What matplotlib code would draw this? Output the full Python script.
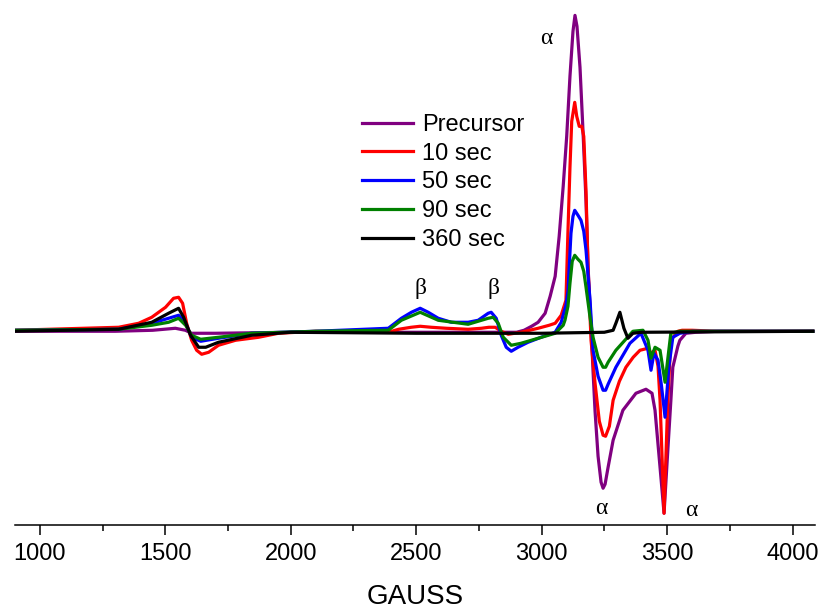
import numpy as np
import matplotlib.pyplot as plt

plt.rcParams['font.family'] = ['Liberation Sans', 'DejaVu Sans']

# 读出的谱线数据 (磁场 G, 信号 a.u.)
g_pre = [896, 1300, 1450, 1540, 1580, 1605, 1700, 2000, 2500, 2900, 2930, 2960, 2986,
         3014, 3034, 3054, 3070, 3086, 3100, 3113, 3125, 3133, 3141, 3153, 3165, 3177,
         3185, 3197, 3205, 3213, 3225, 3237, 3245, 3253, 3265, 3285, 3324, 3376, 3416,
         3440, 3452, 3472, 3488, 3503, 3515, 3523, 3543, 3551, 3575, 3615, 3700, 4081]
y_pre = [0, 0, 1, 3, 1, -2, -2, -1, -1, -1, 1, 5, 9,
         18, 35, 55, 95, 145, 195, 255, 300, 316, 305, 264, 200, 130,
         65, 5, -40, -80, -125, -151, -157, -153, -136, -109, -79, -62, -58,
         -62, -79, -136, -182, -119, -70, -36, -15, -9, -2, -1, 0, 0]

g_10 = [896, 1314, 1394, 1446, 1501, 1533, 1553, 1569, 1585, 1605, 1625, 1645, 1673,
        1712, 1780, 1872, 1951, 2100, 2389, 2430, 2480, 2516, 2560, 2620, 2707, 2760,
        2790, 2815, 2839, 2867, 2918, 2986, 3030, 3054, 3078, 3097, 3105, 3113, 3120,
        3132, 3140, 3150, 3160, 3168, 3177, 3185, 3197, 3213, 3230, 3245, 3255, 3270,
        3285, 3310, 3336, 3365, 3392, 3424, 3436, 3452, 3464, 3472, 3488, 3503, 3515,
        3543, 3560, 3600, 3700, 4081]
y_10 = [1, 4, 8, 14, 24, 33, 34, 28, 8, -9, -19, -23, -21,
        -14, -9, -6, -2, 0, -1, 2, 4, 5, 4, 3, 2, 3,
        4, 4, 0, -3, -1, 3, 6, 8, 16, 31, 100, 164, 210,
        229, 215, 205, 205, 195, 140, 64, -9, -52, -90, -104, -105, -95,
        -69, -50, -36, -26, -19, -17, -22, -19, -35, -69, -182, -69, -9,
        0, 1, 1, 0, 0]

g_50 = [896, 1314, 1446, 1513, 1553, 1581, 1605, 1641, 1712, 1844, 2100, 2389, 2441,
        2481, 2516, 2548, 2588, 2640, 2707, 2747, 2787, 2799, 2819, 2839, 2859, 2879,
        2906, 2946, 2998, 3054, 3078, 3097, 3105, 3117, 3125, 3132, 3145, 3157, 3168,
        3177, 3193, 3205, 3225, 3245, 3255, 3265, 3296, 3352, 3396, 3424, 3436, 3448,
        3464, 3478, 3492, 3507, 3523, 3551, 3600, 4081]
y_50 = [1, 2, 8, 13, 16, 8, -6, -10, -7, -2, 0, 3, 13,
        19, 23, 19, 13, 9, 9, 11, 18, 19, 13, -4, -16, -20,
        -16, -11, -6, -1, 9, 26, 40, 98, 115, 121, 116, 111, 100,
        81, 31, -19, -45, -59, -59, -53, -36, -12, -2, -19, -39, -22,
        -29, -55, -86, -36, -6, -2, 0, 0]

g_90 = [896, 1314, 1446, 1513, 1553, 1581, 1605, 1641, 1712, 1844, 2100, 2389, 2441,
        2516, 2588, 2707, 2787, 2807, 2827, 2847, 2879, 2918, 2986, 3054, 3086, 3093,
        3105, 3113, 3122, 3132, 3145, 3157, 3168, 3177, 3193, 3205, 3225, 3245, 3255,
        3265, 3296, 3364, 3404, 3424, 3436, 3452, 3472, 3492, 3507, 3515, 3550, 4081]
y_90 = [1, 2, 6, 9, 13, 6, -4, -8, -6, -2, 0, 1, 11,
        19, 11, 7, 13, 14, 8, -6, -14, -12, -7, -2, 6, 11,
        25, 48, 70, 76, 72, 69, 60, 44, 14, -6, -26, -36, -36,
        -31, -19, 0, 1, -9, -27, -16, -19, -51, -19, -2, 0, 0]

g_360 = [896, 1314, 1446, 1513, 1553, 1573, 1601, 1633, 1661, 1712, 1844, 2000, 2500,
         3000, 3250, 3285, 3296, 3312, 3328, 3344, 3364, 3400, 4081]
y_360 = [0, 2, 9, 18, 23, 14, -4, -16, -16, -11, -4, -1, -2,
         -2, -1, 1, 8, 19, 3, -7, -2, -1, 0]

labels = ['Precursor', '10 sec', '50 sec', '90 sec', '360 sec']
colors = ['#800080', '#ff0000', '#0000ff', '#008000', '#000000']

fig = plt.figure(figsize=(8.2, 6.1), dpi=100)
ax = fig.add_axes([0.018, 0.139, 0.976, 0.844])

series = [(g_pre, y_pre), (g_10, y_10), (g_50, y_50), (g_90, y_90), (g_360, y_360)]
for (g, y), lab, c in zip(series, labels, colors):
    ax.plot(g, y, color=c, lw=2.3, label=lab, solid_joinstyle='round')

# 希腊字母标注
greek = dict(fontsize=17, family=['Liberation Serif', 'DejaVu Serif'], ha='center', va='center')
ax.text(2516, 43, 'β', **greek)
ax.text(2807, 43, 'β', **greek)
ax.text(3018, 293, 'α', **greek)
ax.text(3237, -177, 'α', **greek)
ax.text(3595, -179, 'α', **greek)

ax.set_xlim(900, 4090)
ax.set_ylim(-194, 321)
for s in ['top', 'left', 'right']:
    ax.spines[s].set_visible(False)
ax.spines['bottom'].set_linewidth(1.1)
ax.set_yticks([])
ax.set_xticks(np.arange(1000, 4001, 500))
ax.set_xticks(np.arange(1250, 4001, 500), minor=True)
ax.tick_params(axis='x', which='major', direction='out', length=7.5, width=1.1,
               labelsize=17, pad=5)
ax.tick_params(axis='x', which='minor', direction='out', length=4.5, width=1.1)
ax.set_xlabel('GAUSS', fontsize=20, labelpad=14)

ax.legend(loc='upper left', bbox_to_anchor=(0.4415, 0.8135), bbox_transform=fig.transFigure,
          frameon=False, fontsize=17, handlelength=2.16, handletextpad=0.38,
          labelspacing=0.29, borderpad=0, borderaxespad=0)

fig.savefig('out.png', dpi=100)
